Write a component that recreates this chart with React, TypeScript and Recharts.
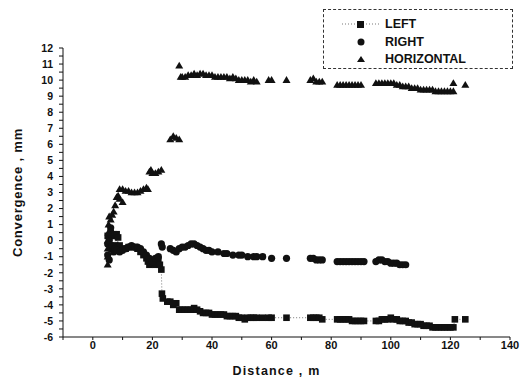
import React from 'react';
import { ScatterChart, Scatter, XAxis, YAxis } from 'recharts';

// distance (m) / convergence (mm)
const leftX = [5, 5.5, 6, 6.5, 7, 7.5, 7.5, 8, 8, 8.5, 8.5, 9, 10, 11, 12, 13, 14, 15, 16, 17, 18, 18.5, 19, 19.5, 20, 20.5, 21, 22, 22.5, 23, 23.2, 23.5, 25, 26, 27, 28, 29, 30, 31, 32, 33, 34, 35, 36, 37, 38, 39, 40, 41, 42, 43, 44, 45, 46, 47, 48, 49, 50, 51, 52, 53, 54, 55, 57, 59, 60, 65, 73, 74, 75, 76, 77, 82, 83, 84, 85, 86, 87, 88, 89, 90, 91, 95, 96, 97, 98, 99, 100, 101, 102, 103, 104, 105, 106, 107, 108, 109, 110, 111, 112, 113, 114, 115, 116, 117, 118, 119, 120, 121, 121.5, 125];
const leftY = [0.3, 0.2, 0.5, 0.3, 0.4, 0.3, -0.3, 0.4, -0.5, 0.2, -0.6, -0.3, -0.5, -0.5, -0.4, -0.4, -0.4, -0.5, -0.7, -0.9, -1.1, -1.3, -1.5, -1.4, -1.4, -1.2, -1.5, -1.2, -1.5, -1.8, -3.3, -3.6, -3.8, -3.8, -4.0, -3.9, -4.3, -4.3, -4.3, -4.3, -4.3, -4.2, -4.3, -4.4, -4.5, -4.5, -4.5, -4.6, -4.6, -4.6, -4.6, -4.6, -4.7, -4.7, -4.7, -4.7, -4.8, -4.8, -4.9, -4.8, -4.8, -4.8, -4.8, -4.8, -4.8, -4.8, -4.8, -4.8, -4.8, -4.8, -4.8, -4.9, -4.9, -4.9, -4.9, -4.9, -4.9, -5.0, -5.0, -5.0, -5.0, -5.0, -5.0, -5.0, -4.9, -4.9, -4.9, -4.8, -4.9, -4.9, -5.0, -5.0, -5.0, -5.1, -5.1, -5.2, -5.2, -5.2, -5.3, -5.3, -5.3, -5.4, -5.4, -5.4, -5.4, -5.4, -5.4, -5.4, -5.4, -4.9, -4.9];

const rightX = [5, 5, 5.5, 5.5, 6, 6, 6.5, 7, 7.5, 8, 9, 10, 11, 12, 13, 14, 15, 16, 17, 18, 19, 20, 21, 22, 23, 23.3, 26, 27, 28, 29, 30, 31, 32, 33, 34, 35, 36, 37, 38, 39, 40, 42, 44, 45, 47, 49, 50, 52, 54, 55, 57, 60, 65, 73, 74, 75, 76, 77, 82, 83, 84, 85, 86, 87, 88, 89, 90, 91, 95, 96, 97, 98, 99, 100, 101, 102, 103, 104, 105];
const rightY = [-0.2, -0.9, 0, -1.2, -0.5, 0.8, -0.3, -0.7, -0.5, -0.6, -0.7, -0.6, -0.5, -0.4, -0.3, -0.4, -0.4, -0.5, -0.7, -0.9, -1.1, -1.3, -1.1, -1.0, -0.2, -0.4, -0.5, -0.6, -0.7, -0.5, -0.4, -0.4, -0.3, -0.2, -0.2, -0.3, -0.4, -0.5, -0.6, -0.6, -0.7, -0.7, -0.8, -0.8, -0.9, -0.9, -0.9, -1.0, -1.0, -1.0, -1.0, -1.1, -1.1, -1.1, -1.1, -1.2, -1.2, -1.2, -1.3, -1.3, -1.3, -1.3, -1.3, -1.3, -1.3, -1.3, -1.3, -1.3, -1.3, -1.2, -1.2, -1.3, -1.3, -1.4, -1.4, -1.4, -1.5, -1.5, -1.5];

const horizX = [5, 5, 5, 5, 5.2, 5.3, 5.5, 6, 6.5, 7, 7.5, 8, 8.5, 9, 10, 9, 10, 11, 12, 13, 14, 15, 16, 17, 18, 18.5, 19, 19.5, 20, 21, 22, 23, 26, 27, 28, 29, 29, 29.5, 30, 31, 32, 33, 34, 35, 36, 37, 38, 39, 40, 41, 42, 43, 44, 45, 46, 47, 48, 49, 50, 51, 52, 53, 54, 55, 59, 60, 65, 73, 74, 75, 76, 77, 82, 83, 84, 85, 86, 87, 88, 89, 90, 95, 96, 97, 98, 99, 100, 101, 102, 103, 104, 105, 106, 107, 108, 109, 110, 111, 112, 113, 114, 115, 116, 117, 118, 119, 120, 121, 121, 125];
const horizY = [-1.5, -1.0, -0.5, 0, 0.5, 1.0, 1.5, 1.3, 1.6, 1.8, 2.2, 2.7, 2.8, 2.6, 2.4, 3.2, 3.2, 3.1, 3.1, 3.0, 3.0, 3.0, 3.1, 3.2, 3.3, 3.2, 4.3, 4.4, 4.2, 4.2, 4.3, 4.4, 6.3, 6.5, 6.4, 6.3, 10.9, 10.2, 10.2, 10.2, 10.3, 10.3, 10.4, 10.3, 10.4, 10.4, 10.3, 10.3, 10.3, 10.2, 10.2, 10.2, 10.2, 10.2, 10.1, 10.2, 10.1, 10.0, 10.0, 10.0, 10.0, 9.9, 10.0, 9.9, 10.0, 10.0, 10.0, 10.0, 10.1, 9.9, 9.9, 9.9, 9.7, 9.7, 9.7, 9.7, 9.7, 9.7, 9.7, 9.7, 9.7, 9.8, 9.8, 9.8, 9.8, 9.8, 9.8, 9.8, 9.7, 9.7, 9.6, 9.6, 9.6, 9.5, 9.5, 9.5, 9.4, 9.4, 9.4, 9.4, 9.4, 9.3, 9.3, 9.3, 9.3, 9.3, 9.3, 9.3, 9.8, 9.7];

const xTicks = [-10, 0, 10, 20, 30, 40, 50, 60, 70, 80, 90, 100, 110, 120, 130, 140];
const yTicks: number[] = [];
for (let v = -6; v <= 12; v += 0.5) yTicks.push(v);

const zip = (xs: number[], ys: number[]) => xs.map((x, i) => ({ x, y: ys[i] }));
const leftData = zip(leftX, leftY);
const rightData = zip(rightX, rightY);
const horizData = zip(horizX, horizY);

const INK = '#111';
const FONT = '"Liberation Sans", Arial, sans-serif';

const Square = (p: any) => <rect x={p.cx - 3.3} y={p.cy - 3.3} width={6.6} height={6.6} fill={INK} />;
const Dot = (p: any) => <circle cx={p.cx} cy={p.cy} r={3.6} fill={INK} />;
const Tri = (p: any) => (
  <polygon points={`${p.cx},${p.cy - 4} ${p.cx - 4},${p.cy + 2.8} ${p.cx + 4},${p.cy + 2.8}`} fill={INK} />
);

const LegendBox = () => (
  <div
    style={{
      position: 'absolute',
      left: 323,
      top: 9,
      width: 188,
      height: 58,
      border: '1px dashed #333',
      background: '#fff',
      fontFamily: FONT,
      fontWeight: 'bold',
      fontSize: 12.5,
      color: INK,
    }}
  >
    <svg width={60} height={58} style={{ position: 'absolute', left: 0, top: 0 }}>
      <line x1={18} y1={14} x2={57} y2={14} stroke="#555" strokeWidth={0.8} strokeDasharray="1 2" />
      <rect x={33} y={11} width={7} height={7} fill={INK} />
      <circle cx={37} cy={32} r={3.5} fill={INK} />
      <polygon points="37,46 33,52 41,52" fill={INK} />
    </svg>
    <div style={{ position: 'absolute', left: 61, top: 6, lineHeight: '17.5px' }}>
      <div>LEFT</div>
      <div>RIGHT</div>
      <div>HORIZONTAL</div>
    </div>
  </div>
);

export default function App() {
  return (
    <div style={{ position: 'fixed', left: 0, top: 0, width: 532, height: 382, background: '#fff' }}>
      <ScatterChart width={532} height={382} margin={{ top: 48, right: 22, bottom: 0, left: 0 }}>
        <XAxis
          type="number"
          dataKey="x"
          domain={[-10, 140]}
          ticks={xTicks}
          interval={0}
          height={45}
          stroke={INK}
          tickSize={3}
          tickMargin={1}
          tick={{ fill: INK, fontSize: 11, fontWeight: 'bold', fontFamily: FONT }}
          tickFormatter={(v: number) => (v % 20 === 0 && v >= 0 ? String(v) : '')}
          label={{
            content: ({ viewBox }: any) => (
              <text
                x={viewBox.x + viewBox.width / 2 - 10}
                y={375}
                textAnchor="middle"
                fill={INK}
                fontFamily={FONT}
                fontWeight="bold"
                fontSize={12.5}
                letterSpacing={1.2}
              >
                Distance  , m
              </text>
            ),
          }}
        />
        <YAxis
          type="number"
          dataKey="y"
          domain={[-6, 12]}
          ticks={yTicks}
          interval={0}
          width={63}
          stroke={INK}
          tickSize={4}
          tickMargin={6}
          tick={{ fill: INK, fontSize: 10.5, fontWeight: 'bold', fontFamily: FONT }}
          tickFormatter={(v: number) => (Number.isInteger(v) ? String(v) : '')}
          label={{
            content: ({ viewBox }: any) => {
              const cy = viewBox.y + viewBox.height / 2;
              return (
                <text
                  x={22}
                  y={cy}
                  transform={`rotate(-90 22 ${cy})`}
                  textAnchor="middle"
                  fill={INK}
                  fontFamily={FONT}
                  fontWeight="bold"
                  fontSize={13}
                  letterSpacing={0.8}
                >
                  Convergence  , mm
                </text>
              );
            },
          }}
        />
        <Scatter
          name="LEFT"
          data={leftData}
          shape={Square}
          line={{ stroke: '#555', strokeWidth: 0.8, strokeDasharray: '1 2' }}
          isAnimationActive={false}
        />
        <Scatter name="RIGHT" data={rightData} shape={Dot} isAnimationActive={false} />
        <Scatter name="HORIZONTAL" data={horizData} shape={Tri} isAnimationActive={false} />
      </ScatterChart>
      <LegendBox />
    </div>
  );
}
